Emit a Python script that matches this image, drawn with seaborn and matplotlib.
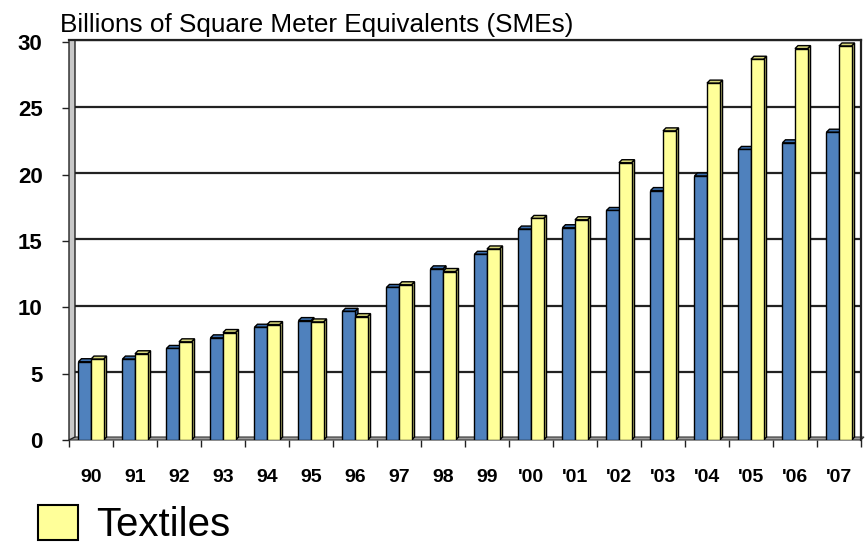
import matplotlib
matplotlib.use("Agg")
import matplotlib.pyplot as plt
import seaborn as sns
import pandas as pd
import numpy as np
from matplotlib.patches import Polygon, Patch

years = ["90", "91", "92", "93", "94", "95", "96", "97", "98", "99",
         "'00", "'01", "'02", "'03", "'04", "'05", "'06", "'07"]
apparel = [5.9, 6.1, 6.9, 7.7, 8.5, 9.0, 9.7, 11.5, 12.9, 14.0,
           15.9, 16.0, 17.3, 18.8, 19.9, 21.9, 22.4, 23.2]
textiles = [6.1, 6.5, 7.4, 8.1, 8.7, 8.9, 9.3, 11.7, 12.7, 14.4,
            16.7, 16.6, 20.9, 23.3, 26.9, 28.7, 29.5, 29.7]
series = ["Apparel", "Textiles"]
title = "Billions of Square Meter Equivalents (SMEs)"

df = pd.DataFrame({
    "year": years * 2,
    "value": apparel + textiles,
    "series": [series[0]] * len(years) + [series[1]] * len(years),
})

front = {"Apparel": "#4F81BD", "Textiles": "#FFFF99"}
side = {"Apparel": "#2C5A93", "Textiles": "#B2B266"}
top = {"Apparel": "#3B6FAE", "Textiles": "#D6D67A"}

sns.set_theme(style="white")
plt.rcParams["font.family"] = ["Liberation Sans", "DejaVu Sans"]
plt.rcParams["text.color"] = "black"
plt.rcParams["xtick.color"] = "black"
plt.rcParams["ytick.color"] = "black"
plt.rcParams["axes.labelcolor"] = "black"

fig = plt.figure(figsize=(8.67, 5.48), dpi=100)
ax = fig.add_axes([69 / 867, 1 - 440 / 548, 792 / 867, 400 / 548])

sns.barplot(data=df, x="year", y="value", hue="series", order=years,
            hue_order=series, palette=front, saturation=1, width=0.57, dodge=True,
            edgecolor="black", linewidth=1.0, legend=False, ax=ax, zorder=3)

ax.set_xlim(-0.5, len(years) - 0.5)
ax.set_ylim(0, 30.15)

# 3D depth offsets in data units
dx = 3.0 / 44.0
dy = 3.0 / 13.27

n = len(years)
for i, bar in enumerate(ax.patches[:2 * n]):
    s = series[i // n]
    x0 = bar.get_x()
    w = bar.get_width()
    h = bar.get_height()
    sp = Polygon([(x0 + w, 0), (x0 + w + dx, dy), (x0 + w + dx, h + dy), (x0 + w, h)],
                 closed=True, facecolor=side[s], edgecolor="black", linewidth=1.0, zorder=2.9)
    tp = Polygon([(x0, h), (x0 + w, h), (x0 + w + dx, h + dy), (x0 + dx, h + dy)],
                 closed=True, facecolor=top[s], edgecolor="black", linewidth=1.0, zorder=2.9)
    ax.add_patch(sp)
    ax.add_patch(tp)

# floor
floor = Polygon([(-0.5, 0), (n - 0.5, 0), (n - 0.5 + dx, dy), (-0.5 + dx, dy)], closed=True,
                facecolor="#9A9A9A", edgecolor="#333333", linewidth=0.8, zorder=1.5, clip_on=False)
ax.add_patch(floor)
# left wall
wall = Polygon([(-0.5, 0), (-0.5 + 2 * dx, dy), (-0.5 + 2 * dx, 30.15), (-0.5, 30.15)], closed=True,
               facecolor="#C8C8C8", edgecolor="#222222", linewidth=1.0, zorder=1.6, clip_on=False)
ax.add_patch(wall)

# grid
ax.set_yticks([0, 5, 10, 15, 20, 25, 30])
for v in [5, 10, 15, 20, 25, 30]:
    ax.axhline(v + dy * 0.6, color="#222222", linewidth=1.6, zorder=1)

for sname in ["top", "right"]:
    ax.spines[sname].set_visible(True)
    ax.spines[sname].set_color("#222222")
    ax.spines[sname].set_linewidth(1.6)
ax.spines["left"].set_visible(False)
ax.spines["bottom"].set_visible(False)

ax.set_xlabel("")
ax.set_ylabel("")
ax.set_xticks(range(n))
ax.set_xticklabels(years)
ax.set_xticks(np.arange(-0.5, n, 1.0), minor=True)
ax.tick_params(axis="x", which="major", length=0, pad=21, labelsize=14)
ax.tick_params(axis="x", which="minor", length=5, width=1.0, color="#222222", bottom=True)
ax.tick_params(axis="y", which="major", length=5, width=1.0, color="#222222", left=True,
               pad=14, labelsize=16)
for lab in ax.get_xticklabels() + ax.get_yticklabels():
    lab.set_fontweight("bold")

fig.text(60 / 867, 1 - 37 / 548, title, fontsize=18.8,
         ha="left", va="bottom", color="black")

# legend (Textiles only)
handle = Patch(facecolor=front["Textiles"], edgecolor="black", linewidth=1.5)
leg = fig.legend([handle], ["Textiles"], loc="lower left",
                 bbox_to_anchor=(30 / 867, -0.008), frameon=False,
                 prop={"size": 29},
                 handlelength=0.98, handleheight=0.98, handletextpad=0.45,
                 borderpad=0.2, borderaxespad=0)

fig.savefig("out.png", dpi=100)
